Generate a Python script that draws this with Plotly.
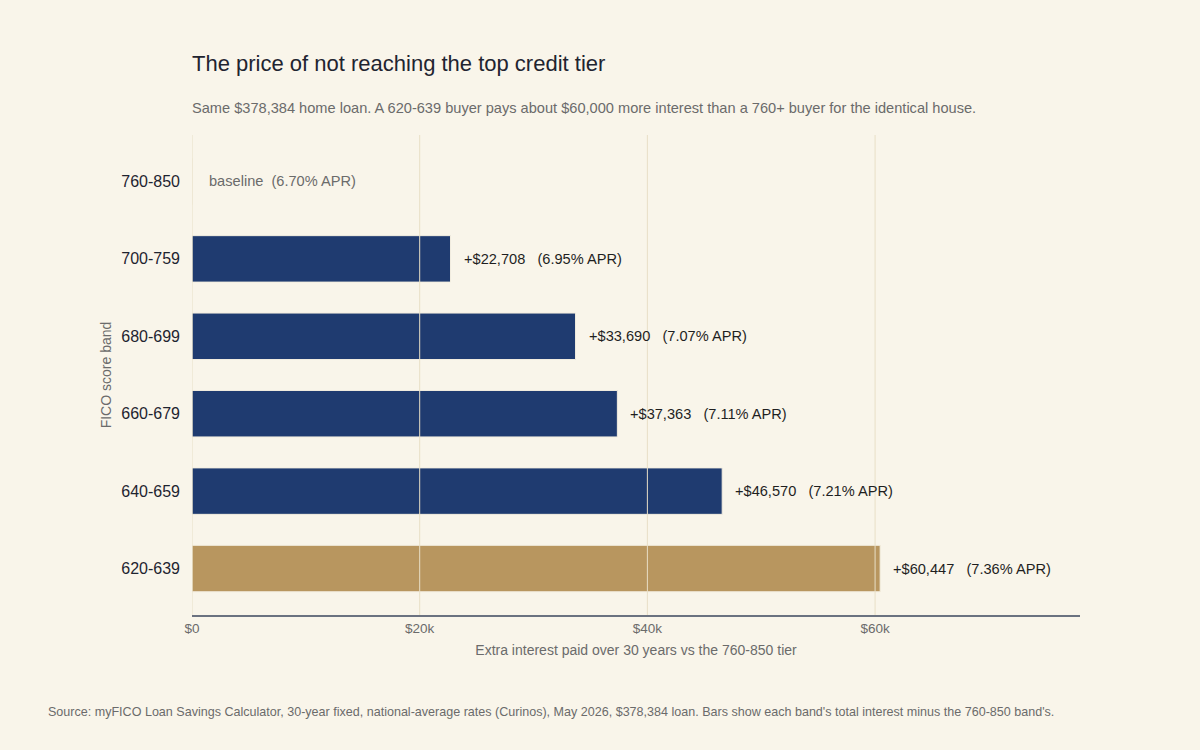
import plotly.graph_objects as go

bands = ["760-850", "700-759", "680-699", "660-679", "640-659", "620-639"]
extra_interest = [0, 22708, 33690, 37363, 46570, 60447]
apr = [6.70, 6.95, 7.07, 7.11, 7.21, 7.36]
x_ticks = [0, 20000, 40000, 60000]
x_tick_labels = ["$0", "$20k", "$40k", "$60k"]

NAVY = "#1f3b70"
GOLD = "#b8965f"
BG = "#f9f5ea"
GRID = "#e8dfc6"
colors = [GOLD if b == "620-639" else NAVY for b in bands]

fig = go.Figure()
fig.add_trace(go.Bar(
    y=bands, x=extra_interest, orientation="h",
    marker=dict(color=colors, line=dict(color="#f3eee0", width=1)),
    width=0.6, hoverinfo="skip",
))

# gridlines drawn over the bars
for t in x_ticks:
    fig.add_shape(type="line", xref="x", yref="paper", x0=t, x1=t, y0=0, y1=1,
                  line=dict(color=GRID, width=1), layer="above")

for b, v, a in zip(bands, extra_interest, apr):
    if v == 0:
        txt = f"baseline  ({a:.2f}% APR)"
        col = "#6b6b6b"
        xs = 15
    else:
        txt = f"+${v:,}   ({a:.2f}% APR)"
        col = "#1f1f1f"
        xs = 11
    fig.add_annotation(x=v, y=b, xref="x", yref="y", text=txt, showarrow=False,
                       xanchor="left", yanchor="middle", xshift=xs,
                       font=dict(size=14.6, color=col))

fig.add_annotation(xref="paper", yref="paper", x=0, y=1 + 72 / 480, xanchor="left", yanchor="middle",
                   xshift=-2, text="The price of not reaching the top credit tier", showarrow=False,
                   font=dict(size=22, color="#1f2430"))
fig.add_annotation(xref="paper", yref="paper", x=0, y=1 + 27 / 480, xanchor="left", yanchor="middle",
                   xshift=-2,
                   text="Same $378,384 home loan. A 620-639 buyer pays about $60,000 more interest than a 760+ buyer for the identical house.",
                   showarrow=False, font=dict(size=14.6, color="#6b6b6b"))
fig.add_annotation(xref="paper", yref="paper", x=-146 / 888, y=-97 / 480, xanchor="left", yanchor="middle",
                   text="Source: myFICO Loan Savings Calculator, 30-year fixed, national-average rates (Curinos), May 2026, $378,384 loan. Bars show each band's total interest minus the 760-850 band's.",
                   showarrow=False, font=dict(size=12.55, color="#6b6b6b"))

fig.update_layout(
    width=1200, height=750,
    paper_bgcolor=BG, plot_bgcolor=BG,
    margin=dict(l=192, r=120, t=135, b=135),
    font=dict(family="Liberation Sans, Arial, sans-serif"),
    showlegend=False,
    xaxis=dict(
        range=[0, 78000], tickvals=x_ticks, ticktext=x_tick_labels,
        showgrid=False,
        zeroline=False, showline=True, linecolor="#6b7280", linewidth=1.5,
        tickfont=dict(size=13.5, color="#6b6b6b"),
        title=dict(text="Extra interest paid over 30 years vs the 760-850 tier",
                   font=dict(size=14, color="#6b6b6b"), standoff=10),
        ticks="", ticklen=0,
    ),
    yaxis=dict(
        categoryorder="array", categoryarray=bands,
        range=[5.6, -0.6], showgrid=False, zeroline=False, showline=False,
        tickfont=dict(size=16, color="#1f2430"), ticks="", ticklabelstandoff=11,
        title=dict(text="FICO score band", font=dict(size=14, color="#6b6b6b"), standoff=6),
    ),
)

fig.write_html("out.html")
